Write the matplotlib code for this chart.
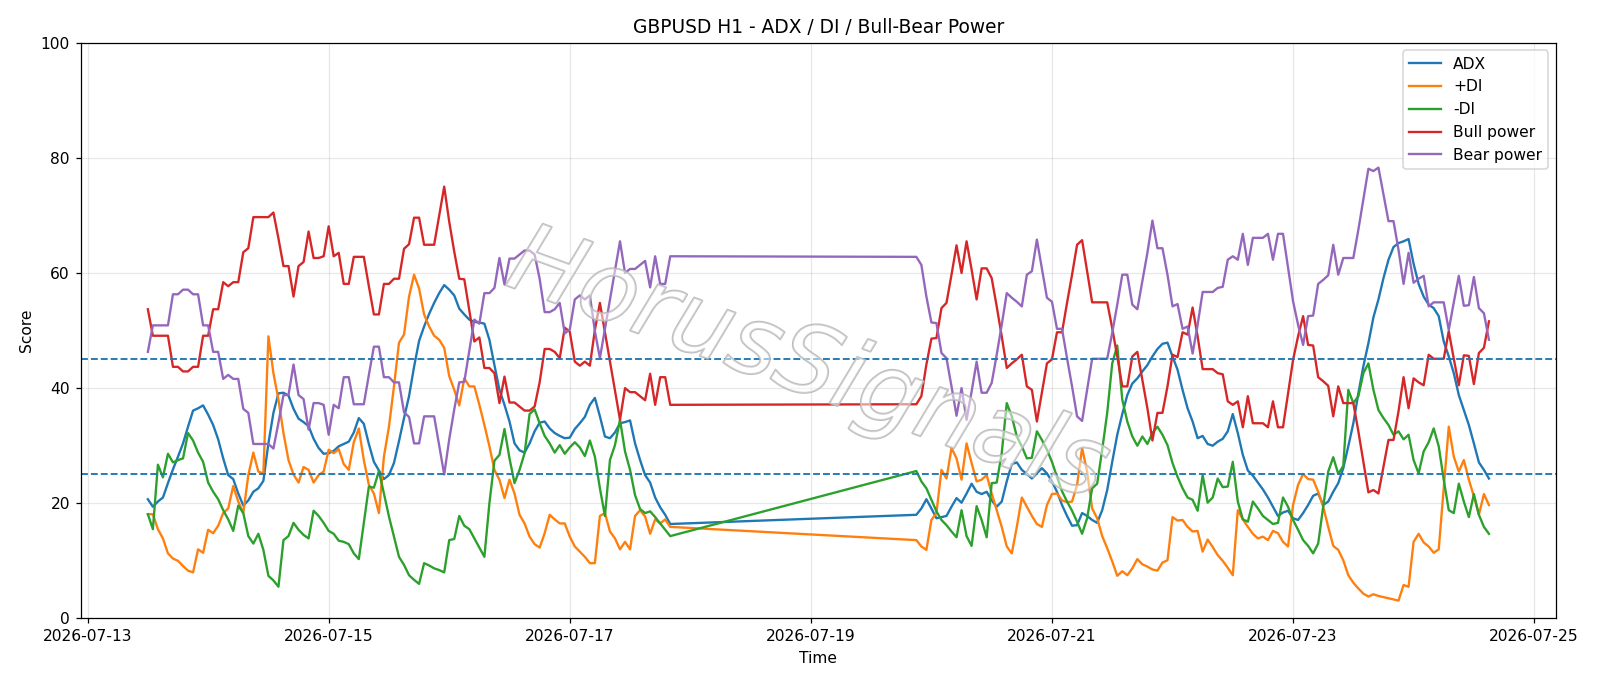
#!/usr/bin/env python3
"""
GBPUSD H1 indicator chart: ADX, +DI/-DI and bull/bear power scores.

Usage:
    python plot.py
"""

import matplotlib

matplotlib.use("Agg")

import matplotlib.dates as mdates
import matplotlib.patheffects as pe
import matplotlib.pyplot as plt
import pandas as pd

# Hourly bars, Monday 12:00 to Friday close, then Sunday open onwards
WEEK1_START, WEEK1_END = "2026-07-13 12:00", "2026-07-17 20:00"
WEEK2_START, WEEK2_END = "2026-07-19 21:00", "2026-07-24 15:00"

adx = [
    # 2026-07-13 12:00 -> 2026-07-17 20:00
    20.7, 19.4, 20.3, 21.0, 23.5, 25.9, 28.1, 30.4, 33.3, 36.1, 36.5, 37.0,
    35.4, 33.6, 31.1, 27.8, 24.9, 24.2, 21.7, 19.6, 20.5, 22.0, 22.6, 23.9,
    30.4, 35.7, 39.1, 39.2, 38.7, 36.4, 34.7, 34.1, 33.4, 31.2, 29.6, 28.6,
    28.7, 29.1, 29.9, 30.3, 30.7, 32.3, 34.8, 33.8, 30.3, 27.2, 25.7, 24.2,
    24.9, 27.0, 30.8, 34.8, 38.6, 43.7, 48.2, 50.7, 52.9, 54.8, 56.5, 57.9,
    57.1, 56.1, 53.8, 52.8, 51.9, 51.5, 51.4, 51.2, 48.4, 44.0, 39.7, 37.1,
    34.2, 30.4, 29.2, 28.8, 30.4, 32.5, 34.0, 34.2, 33.0, 32.2, 31.7, 31.3,
    31.4, 32.9, 33.9, 35.0, 37.1, 38.3, 35.1, 31.6, 31.3, 32.3, 33.9, 34.1,
    34.4, 30.4, 27.5, 24.9, 23.6, 21.0, 19.3, 18.0, 16.4,
    # 2026-07-19 21:00 -> 2026-07-24 15:00
    18.0, 19.1, 20.7, 19.1, 17.4, 17.6, 17.8, 19.4, 20.9, 20.1, 21.7, 23.4,
    22.0, 21.6, 22.0, 20.5, 19.4, 20.3, 23.8, 26.8, 27.1, 25.8, 25.1, 24.3,
    25.2, 26.1, 25.2, 23.8, 22.0, 19.7, 17.8, 16.1, 16.2, 18.3, 17.8, 17.1,
    16.6, 18.8, 22.3, 27.2, 31.9, 35.5, 38.8, 40.8, 41.7, 42.9, 44.0, 45.5,
    46.8, 47.7, 47.9, 45.5, 43.2, 39.7, 36.5, 34.2, 31.3, 31.7, 30.3, 30.0,
    30.7, 31.2, 32.5, 35.5, 32.2, 28.4, 25.7, 24.8, 23.6, 22.4, 21.0, 19.4,
    17.8, 18.4, 18.7, 17.4, 17.1, 18.3, 19.7, 21.3, 21.7, 19.7, 20.3, 22.0,
    23.5, 26.1, 29.9, 33.9, 39.1, 43.8, 47.8, 52.3, 55.4, 59.1, 62.3, 64.5,
    65.2, 65.5, 65.9, 61.6, 58.1, 55.9, 54.5, 53.9, 52.5, 48.1, 45.5, 42.6,
    38.8, 36.2, 33.6, 30.4, 27.1, 25.8, 24.3,
]

plus_di = [
    18.1, 18.1, 15.5, 13.9, 11.3, 10.4, 10.0, 9.1, 8.3, 8.0, 12.0, 11.4,
    15.4, 14.8, 16.1, 18.3, 19.1, 23.0, 20.3, 18.3, 24.9, 28.8, 25.5, 25.2,
    49.0, 42.6, 38.0, 32.2, 27.5, 25.0, 23.6, 26.3, 25.8, 23.6, 24.9, 25.5,
    29.3, 28.7, 29.4, 26.8, 25.8, 30.6, 33.0, 27.5, 23.2, 21.7, 18.3, 28.1,
    33.3, 40.3, 47.9, 49.3, 55.9, 59.7, 57.3, 52.8, 50.7, 49.1, 48.4, 47.0,
    42.1, 39.7, 37.0, 41.7, 40.3, 40.3, 37.1, 33.6, 29.9, 25.8, 24.1, 20.9,
    24.1, 21.7, 18.0, 16.5, 14.2, 12.9, 12.3, 14.8, 18.0, 17.2, 16.5, 16.5,
    14.2, 12.5, 11.6, 10.7, 9.6, 9.6, 17.8, 18.3, 15.1, 13.9, 12.0, 13.3,
    12.0, 17.8, 18.8, 17.7, 14.7, 17.2, 16.5, 17.2, 15.9,
    13.6, 12.5, 11.9, 17.1, 18.3, 25.8, 24.3, 29.6, 27.8, 24.1, 30.4, 27.0,
    23.8, 24.1, 24.9, 21.7, 18.8, 15.9, 12.5, 11.3, 15.9, 21.0, 19.4, 17.8,
    16.4, 15.9, 19.7, 21.6, 21.7, 20.5, 20.2, 20.3, 23.2, 29.6, 25.5, 19.1,
    17.4, 14.3, 12.2, 9.9, 7.4, 8.2, 7.5, 8.7, 10.3, 9.4, 9.0, 8.5,
    8.3, 9.7, 10.1, 17.6, 17.0, 17.1, 15.9, 15.1, 15.2, 11.6, 13.7, 12.4,
    11.0, 10.0, 8.8, 7.5, 18.8, 17.2, 15.9, 14.7, 13.9, 14.2, 13.6, 15.2,
    14.8, 13.3, 12.5, 19.7, 23.2, 25.1, 24.2, 24.1, 22.0, 19.4, 15.9, 12.6,
    11.9, 10.1, 7.5, 6.2, 5.2, 4.3, 3.8, 4.2, 3.9, 3.7, 3.5, 3.3,
    3.1, 5.8, 5.5, 13.3, 14.7, 13.2, 12.5, 11.4, 12.0, 22.6, 33.3, 28.1,
    25.5, 27.5, 24.1, 21.2, 18.0, 21.6, 19.7,
]

minus_di = [
    18.1, 15.5, 26.7, 24.5, 28.6, 27.1, 27.5, 27.8, 32.2, 30.9, 28.8, 27.2,
    23.6, 22.0, 20.7, 18.8, 17.2, 15.2, 19.6, 18.3, 14.3, 13.0, 14.7, 11.9,
    7.4, 6.6, 5.5, 13.6, 14.3, 16.6, 15.4, 14.5, 13.9, 18.7, 17.8, 16.6,
    15.2, 14.7, 13.5, 13.3, 12.9, 11.3, 10.3, 16.6, 22.9, 22.7, 25.6, 21.7,
    17.7, 14.2, 10.7, 9.3, 7.5, 6.7, 6.0, 9.6, 9.2, 8.7, 8.4, 8.0,
    13.6, 13.8, 17.8, 16.1, 15.5, 13.9, 12.3, 10.7, 20.0, 27.4, 28.4, 32.9,
    27.8, 23.5, 25.8, 28.7, 35.5, 36.3, 33.9, 31.7, 30.4, 28.8, 30.1, 28.6,
    29.7, 30.6, 29.7, 28.2, 30.9, 28.1, 22.6, 17.8, 27.5, 30.1, 34.5, 29.0,
    25.8, 21.4, 19.0, 18.3, 18.6, 17.6, 16.5, 15.4, 14.3,
    25.6, 23.8, 22.6, 20.6, 18.6, 17.1, 16.2, 15.1, 14.1, 18.8, 14.3, 12.6,
    19.5, 17.1, 14.1, 23.5, 23.6, 28.7, 37.4, 35.1, 31.6, 29.9, 27.8, 27.9,
    32.5, 31.0, 29.3, 27.2, 24.6, 22.1, 20.3, 18.7, 16.8, 14.7, 17.4, 22.6,
    23.4, 29.3, 35.7, 44.3, 47.4, 38.0, 34.2, 31.6, 30.0, 31.6, 30.3, 32.2,
    33.3, 31.9, 30.1, 27.0, 24.6, 22.6, 21.0, 20.6, 18.7, 24.9, 20.1, 21.0,
    24.3, 22.8, 22.9, 27.2, 20.3, 17.2, 16.8, 20.3, 19.1, 17.8, 17.1, 16.4,
    16.6, 21.0, 19.4, 17.1, 15.4, 13.6, 12.6, 11.3, 13.0, 19.4, 25.5, 28.0,
    25.1, 26.5, 39.7, 37.4, 38.6, 42.6, 44.3, 39.7, 36.2, 34.8, 33.6, 31.9,
    32.5, 31.1, 31.9, 27.5, 25.2, 29.0, 30.6, 33.0, 29.9, 24.1, 18.8, 18.3,
    23.4, 20.3, 17.6, 21.6, 18.0, 15.9, 14.7,
]

bull_power = [
    53.7, 49.1, 49.1, 49.1, 49.1, 43.7, 43.7, 42.9, 42.9, 43.7, 43.7, 49.1,
    49.1, 53.7, 53.7, 58.4, 57.7, 58.4, 58.4, 63.6, 64.3, 69.7, 69.7, 69.7,
    69.7, 70.5, 66.0, 61.2, 61.2, 55.9, 61.2, 61.9, 67.2, 62.6, 62.6, 62.9,
    68.1, 62.9, 63.5, 58.1, 58.1, 62.8, 62.8, 62.8, 57.7, 52.8, 52.8, 58.1,
    58.1, 59.0, 59.0, 64.2, 65.0, 69.6, 69.6, 64.9, 64.9, 64.9, 70.0, 75.0,
    68.9, 63.7, 59.0, 58.9, 53.5, 48.1, 48.8, 43.5, 43.5, 42.6, 37.4, 42.0,
    37.5, 37.5, 36.8, 36.1, 36.1, 36.8, 41.0, 46.8, 46.8, 46.3, 45.2, 50.5,
    49.8, 44.6, 43.9, 44.6, 43.9, 50.1, 54.8, 49.7, 44.6, 39.5, 34.5, 40.0,
    39.3, 39.3, 38.6, 37.9, 42.5, 37.1, 41.9, 41.9, 37.1,
    37.2, 38.6, 44.1, 48.6, 48.7, 53.9, 54.8, 59.7, 64.8, 60.0, 65.5, 60.6,
    55.4, 60.8, 60.8, 59.1, 54.2, 49.0, 43.5, 44.3, 45.0, 45.8, 40.3, 39.7,
    34.2, 39.3, 44.3, 45.0, 49.7, 49.7, 54.8, 59.7, 64.9, 65.7, 60.3, 54.9,
    54.9, 54.9, 54.9, 50.4, 45.5, 40.3, 40.3, 45.5, 46.3, 41.4, 36.5, 30.9,
    35.7, 35.7, 40.3, 45.8, 45.4, 49.7, 49.3, 54.0, 49.0, 43.3, 43.3, 43.3,
    42.6, 42.4, 37.7, 37.1, 37.7, 33.2, 38.6, 33.9, 33.9, 33.9, 33.2, 37.7,
    33.2, 33.2, 39.1, 44.9, 49.0, 52.5, 47.5, 47.4, 41.9, 41.2, 40.4, 35.1,
    40.3, 37.4, 37.4, 37.4, 32.5, 27.2, 21.9, 22.3, 21.7, 26.4, 31.0, 31.0,
    36.0, 41.9, 36.5, 41.7, 41.0, 40.5, 45.8, 45.1, 45.1, 45.1, 49.9, 45.1,
    40.5, 45.7, 45.6, 40.7, 46.1, 47.0, 51.6,
]

bear_power = [
    46.3, 50.9, 50.9, 50.9, 50.9, 56.3, 56.3, 57.1, 57.1, 56.3, 56.3, 50.9,
    50.9, 46.3, 46.3, 41.6, 42.3, 41.6, 41.6, 36.4, 35.7, 30.3, 30.3, 30.3,
    30.3, 29.5, 34.0, 38.8, 38.8, 44.1, 38.8, 38.1, 32.8, 37.4, 37.4, 37.1,
    31.9, 37.1, 36.5, 41.9, 41.9, 37.2, 37.2, 37.2, 42.3, 47.2, 47.2, 41.9,
    41.9, 41.0, 41.0, 35.8, 35.0, 30.4, 30.4, 35.1, 35.1, 35.1, 30.0, 25.0,
    31.1, 36.3, 41.0, 41.1, 46.5, 51.9, 51.2, 56.5, 56.5, 57.4, 62.6, 58.0,
    62.5, 62.5, 63.2, 63.9, 63.9, 63.2, 59.0, 53.2, 53.2, 53.7, 54.8, 49.5,
    50.2, 55.4, 56.1, 55.4, 56.1, 49.9, 45.2, 50.3, 55.4, 60.5, 65.5, 60.0,
    60.7, 60.7, 61.4, 62.1, 57.5, 62.9, 58.1, 58.1, 62.9,
    62.8, 61.4, 55.9, 51.4, 51.3, 46.1, 45.2, 40.3, 35.2, 40.0, 34.5, 39.4,
    44.6, 39.2, 39.2, 40.9, 45.8, 51.0, 56.5, 55.7, 55.0, 54.2, 59.7, 60.3,
    65.8, 60.7, 55.7, 55.0, 50.3, 50.3, 45.2, 40.3, 35.1, 34.3, 39.7, 45.1,
    45.1, 45.1, 45.1, 49.6, 54.5, 59.7, 59.7, 54.5, 53.7, 58.6, 63.5, 69.1,
    64.3, 64.3, 59.7, 54.2, 54.6, 50.3, 50.7, 46.0, 51.0, 56.7, 56.7, 56.7,
    57.4, 57.6, 62.3, 62.9, 62.3, 66.8, 61.4, 66.1, 66.1, 66.1, 66.8, 62.3,
    66.8, 66.8, 60.9, 55.1, 51.0, 47.5, 52.5, 52.6, 58.1, 58.8, 59.6, 64.9,
    59.7, 62.6, 62.6, 62.6, 67.5, 72.8, 78.1, 77.7, 78.3, 73.6, 69.0, 69.0,
    64.0, 58.1, 63.5, 58.3, 59.0, 59.5, 54.2, 54.9, 54.9, 54.9, 50.1, 54.9,
    59.5, 54.3, 54.4, 59.3, 53.9, 53.0, 48.4,
]

ADX_LEVELS = [25, 45]
WATERMARK = "HorusSignals"


def build_frame() -> pd.DataFrame:
    """Put the indicator series on an hourly time index (weekend skipped)."""
    times = pd.date_range(WEEK1_START, WEEK1_END, freq="h").append(
        pd.date_range(WEEK2_START, WEEK2_END, freq="h")
    )
    return pd.DataFrame(
        {
            "ADX": adx,
            "+DI": plus_di,
            "-DI": minus_di,
            "Bull power": bull_power,
            "Bear power": bear_power,
        },
        index=times,
    )


def plot_indicators(df: pd.DataFrame, output_path: str = "out.png") -> plt.Figure:
    dpi = 112
    fig, ax = plt.subplots(figsize=(1600 / dpi, 686 / dpi), dpi=dpi)
    fig.subplots_adjust(left=0.0505, right=0.9725, top=0.9378, bottom=0.0985)

    for col in df.columns:
        ax.plot(df.index, df[col], label=col, linewidth=1.5)

    for level in ADX_LEVELS:
        ax.axhline(level, color="C0", linestyle="--", linewidth=1.2)

    ax.set_ylim(0, 100)
    ax.set_title("GBPUSD H1 - ADX / DI / Bull-Bear Power")
    ax.set_xlabel("Time")
    ax.set_ylabel("Score")
    ax.grid(True, alpha=0.3)
    ax.legend(loc="upper right")

    ax.xaxis.set_major_locator(mdates.DayLocator(bymonthday=range(1, 32, 2)))
    ax.xaxis.set_major_formatter(mdates.DateFormatter("%Y-%m-%d"))

    # Watermark: hollow grey lettering across the middle
    fig.text(
        0.505,
        0.465,
        WATERMARK,
        fontsize=62,
        style="italic",
        rotation=-20,
        ha="center",
        va="center",
        color=(1, 1, 1, 0.3),
        path_effects=[
            pe.Stroke(linewidth=1.3, foreground=(0.7, 0.7, 0.7, 0.85)),
            pe.Normal(),
        ],
    )

    fig.savefig(output_path, dpi=dpi)
    return fig


def main():
    df = build_frame()
    fig = plot_indicators(df)
    plt.close(fig)


if __name__ == "__main__":
    main()
